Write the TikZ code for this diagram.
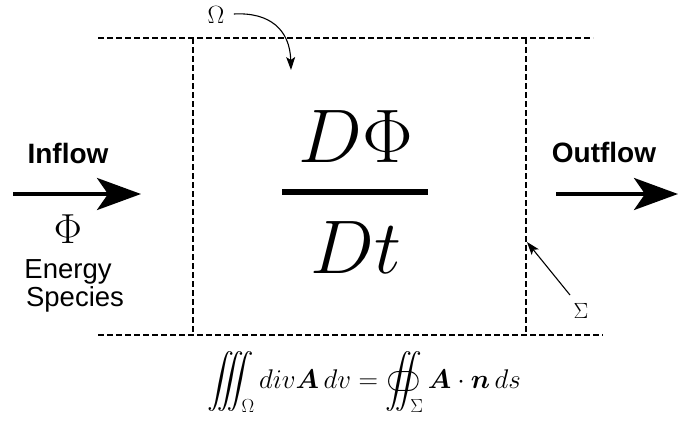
\RequirePackage{fix-cm}
\documentclass[tikz,border=0pt]{standalone}
\usepackage{fontspec}
\setsansfont{Liberation Sans}
\usepackage{amsmath}
\usepackage{esint}
\usetikzlibrary{arrows.meta}
\tikzset{
  bound/.style={line width=2pt, dash pattern=on 6pt off 3pt},
  flowarrow/.style={line width=4pt, -{Stealth[length=44pt, width=32pt, inset=11pt]}},
  thinarrow/.style={line width=1.1pt, -{Stealth[length=13pt, width=9pt, inset=3pt]}},
  flowlabel/.style={font=\sffamily\bfseries\fontsize{28}{30}\selectfont},
  plainlabel/.style={font=\sffamily\fontsize{27.5}{28}\selectfont, anchor=base, inner sep=0pt},
}
\begin{document}
\begin{tikzpicture}[x=1pt,y=-1pt]
\useasboundingbox (0,0) rectangle (678,426);
% control volume boundaries
\coordinate (tl) at (98,38);  \coordinate (tr) at (593,38);
\coordinate (bl) at (98,335); \coordinate (br) at (603,335);
\coordinate (lt) at (193,38); \coordinate (lb) at (193,335);
\coordinate (rt) at (526,38); \coordinate (rb) at (526,335);
\draw[bound] (tl) -- (tr);
\draw[bound] (bl) -- (br);
\draw[bound] (lt) -- (lb);
\draw[bound] (rt) -- (rb);
% material derivative
\node (num) at (356,137) {\fontsize{76}{80}\selectfont$D\Phi$};
\node (den) at (356,248) {\fontsize{76}{80}\selectfont$Dt$};
\coordinate (barl) at (282,192); \coordinate (barr) at (428,192);
\draw[line width=5.5pt] (barl) -- (barr);
% inflow
\node[flowlabel] (inflow) at (68,153) {Inflow};
\coordinate (ina) at (13,194); \coordinate (inb) at (141,194);
\draw[flowarrow] (ina) -- (inb);
\node (phi) at (68,229) {\fontsize{42}{44}\selectfont$\Phi$};
\node[plainlabel] (energy) at (68,278) {Energy};
\node[plainlabel] (species) at (75,306) {Species};
% outflow
\node[flowlabel] (outflow) at (604,152) {Outflow};
\coordinate (outa) at (556,194); \coordinate (outb) at (678,194);
\draw[flowarrow] (outa) -- (outb);
% Omega label
\node (omega) at (216,15) {\fontsize{25}{28}\selectfont$\Omega$};
\coordinate (omtip) at (291,70);
\draw[thinarrow] (omega.east) ++(6,-1) .. controls (270,12) and (290,30) .. (omtip);
% Sigma label
\node (sigma) at (581,311) {\fontsize{22}{26}\selectfont$\Sigma$};
\coordinate (sigtip) at (527,242);
\coordinate (sigstart) at (570,295);
\draw[thinarrow] (sigstart) -- (sigtip);
% divergence theorem
\node (gauss) at (364,382) {\fontsize{27}{30}\selectfont$\displaystyle \iiint_{\Omega} div\boldsymbol{A}\,dv=\oiint_{\Sigma}\boldsymbol{A}\cdot\boldsymbol{n}\,ds$};
\end{tikzpicture}
\end{document}
